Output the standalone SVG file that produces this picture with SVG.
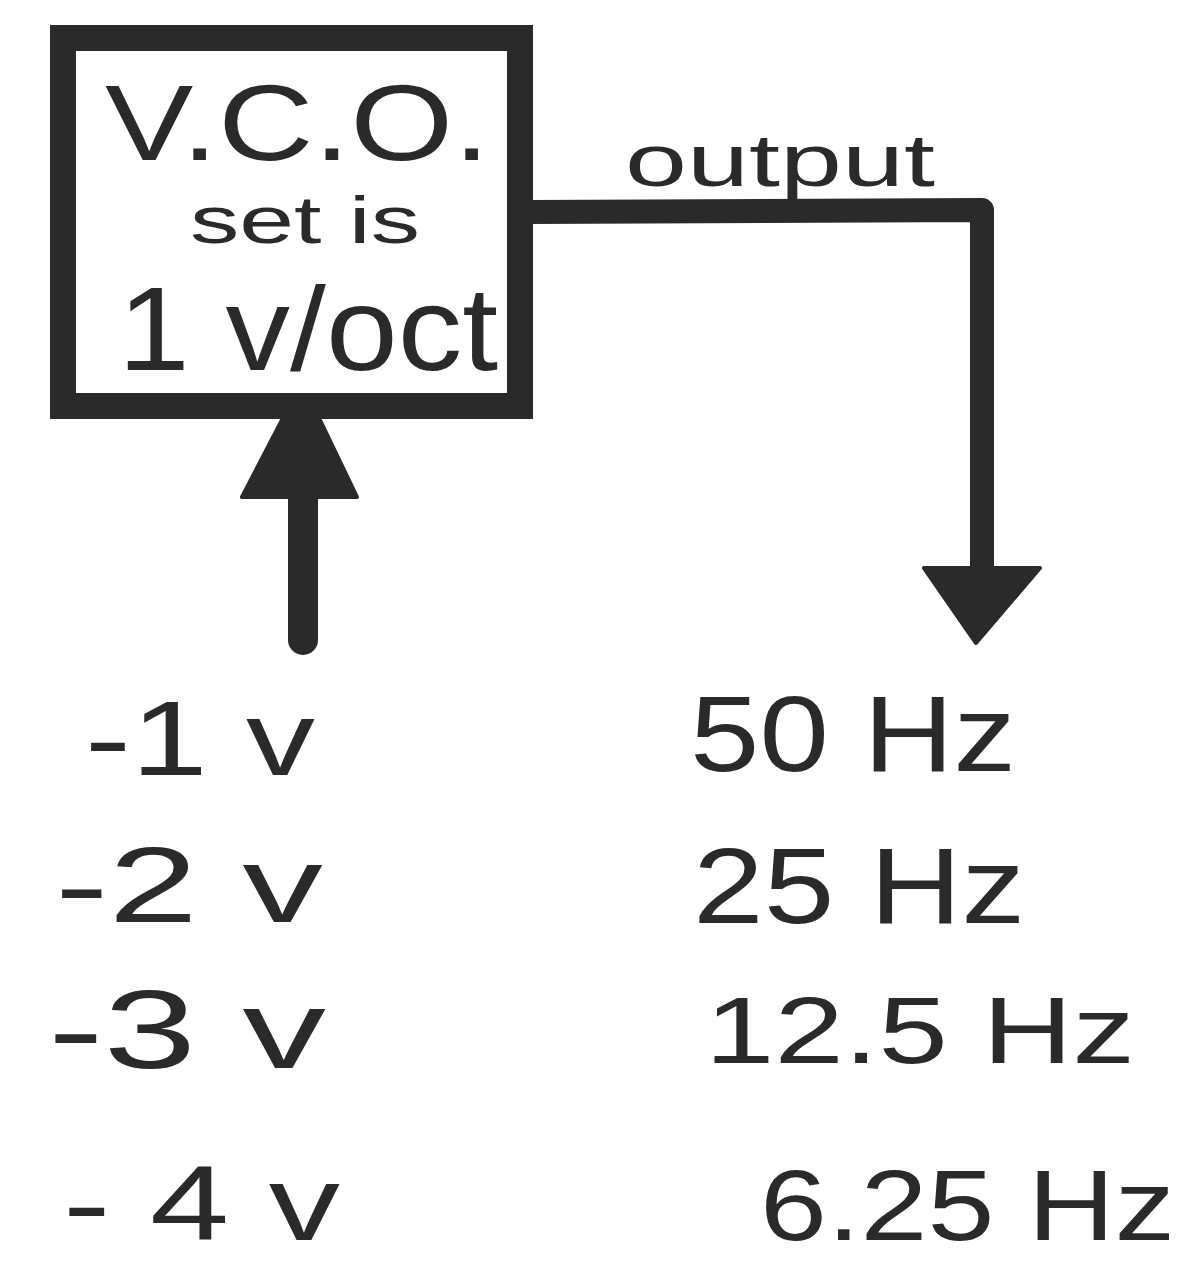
<svg xmlns="http://www.w3.org/2000/svg" width="1185" height="1265" viewBox="0 0 1185 1265">
<style>
.ink{fill:#2a2a2a;font-family:"Liberation Sans","DejaVu Sans",sans-serif}
.line{fill:none;stroke:#2a2a2a;stroke-linejoin:round;stroke-linecap:round}
.head{fill:#2a2a2a;stroke:#2a2a2a;stroke-width:4;stroke-linejoin:round}
</style>
<rect width="1185" height="1265" fill="#ffffff"/>
<g id="vco">
<rect x="63" y="38" width="457" height="368" fill="#ffffff" stroke="#2a2a2a" stroke-width="26"/>
<text class="ink" x="105" y="160" font-size="108" textLength="385" lengthAdjust="spacingAndGlyphs">V.C.O.</text>
<text class="ink" x="190" y="243" font-size="66" textLength="230" lengthAdjust="spacingAndGlyphs">set is</text>
<text class="ink" x="118" y="370" font-size="118" textLength="380" lengthAdjust="spacingAndGlyphs">1 v/oct</text>
</g>
<g id="connectors">
<path class="line" stroke-width="24" d="M530 212 L982 210 L982 570"/>
<polygon class="head" points="924,568 1040,568 976,643"/>
<text class="ink" x="625" y="186" font-size="74" textLength="310" lengthAdjust="spacingAndGlyphs">output</text>
<path class="line" stroke-width="30" d="M303 640 L303 490"/>
<polygon class="head" points="242,497 357,497 320,420 282,420"/>
</g>
<g id="voltages">
<text class="ink" x="85" y="775" font-size="105" textLength="230" lengthAdjust="spacingAndGlyphs">-1 v</text>
<text class="ink" x="55" y="922" font-size="108" textLength="268" lengthAdjust="spacingAndGlyphs">-2 v</text>
<text class="ink" x="48" y="1068" font-size="112" textLength="278" lengthAdjust="spacingAndGlyphs">-3 v</text>
<text class="ink" x="63" y="1240" font-size="105" textLength="277" lengthAdjust="spacingAndGlyphs">- 4 v</text>
</g>
<g id="frequencies">
<text class="ink" x="690" y="771" font-size="107" textLength="326" lengthAdjust="spacingAndGlyphs">50 Hz</text>
<text class="ink" x="693" y="923" font-size="108" textLength="332" lengthAdjust="spacingAndGlyphs">25 Hz</text>
<text class="ink" x="705" y="1063" font-size="95" textLength="430" lengthAdjust="spacingAndGlyphs">12.5 Hz</text>
<text class="ink" x="760" y="1240" font-size="100" textLength="415" lengthAdjust="spacingAndGlyphs">6.25 Hz</text>
</g>
</svg>
